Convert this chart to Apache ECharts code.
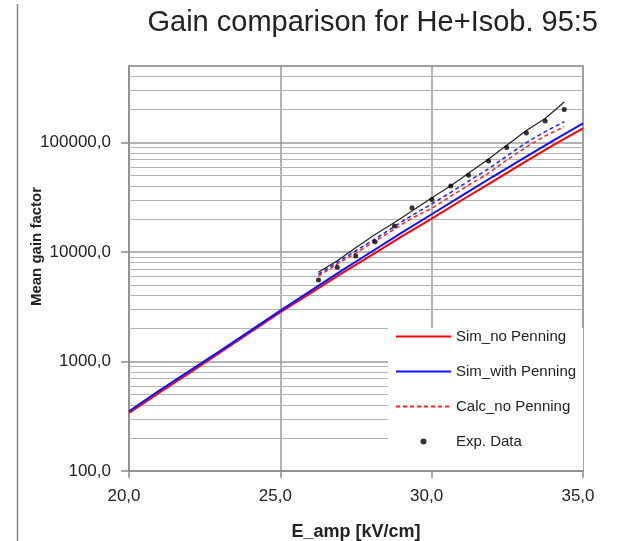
<!DOCTYPE html>
<html>
<head>
<meta charset="utf-8">
<script src="https://cdn.jsdelivr.net/npm/echarts@6/dist/echarts.min.js"></script>
<style>html,body{margin:0;padding:0;background:#fff}#c{width:618px;height:541px}</style>
</head>
<body>
<div id="c"></div>
<script>
// ---- data ----
const simE = [20, 21, 22, 23, 24, 25, 26, 27, 28, 29, 30, 31, 32, 33, 34, 35];
const simNoPenning = [339, 519, 785, 1202, 1841, 2818, 4217, 6310, 9333, 13804, 20184, 29854, 43652, 64565, 94406, 134896];
const simWithPenning = [351, 543, 822, 1245, 1905, 2917, 4416, 6683, 10000, 14962, 22131, 32734, 48417, 70795, 103514, 149624];

const expE = [26.26, 26.88, 27.49, 28.13, 28.77, 29.35, 30.01, 30.63, 31.22, 31.88, 32.48, 33.13, 33.75, 34.38];
const calcNoPenning = [6026, 7762, 9772, 12589, 16218, 20417, 25119, 32359, 40738, 52481, 69183, 91201, 114815, 139316];
const calcWithPenning = [6266, 8054, 10257, 13183, 17100, 21577, 27542, 35075, 44463, 57544, 74989, 100000, 125893, 154882];
const expFit = [6531, 8318, 10965, 14454, 18621, 23714, 31261, 40272, 52481, 70795, 94406, 128825, 165959, 234423];
const expData = [5560, 7260, 9200, 12420, 17260, 25350, 30200, 40000, 50350, 67920, 89950, 122460, 157400, 200000];

const legendNames = ['Sim_no Penning', 'Sim_with Penning', 'Calc_no Penning', 'Exp. Data'];
const minorGridValues = [200, 300, 400, 500, 600, 700, 800, 900,
  2000, 3000, 4000, 5000, 6000, 7000, 8000, 9000,
  20000, 30000, 40000, 50000, 60000, 70000, 80000, 90000,
  200000, 300000, 400000];

const pairs = (xs, ys) => xs.map((x, i) => [x, ys[i]]);

const chart = echarts.init(document.getElementById('c'), null, {renderer: 'canvas'});
const FONT = 'Liberation Sans';
chart.setOption({
  animation: false,
  backgroundColor: '#fff',
  textStyle: {fontFamily: FONT, color: '#222'},
  title: {
    text: 'Gain comparison for He+Isob. 95:5',
    right: 15, top: 3,
    textStyle: {fontFamily: FONT, fontSize: 29, fontWeight: 'normal', color: '#222'}
  },
  grid: {left: 129, right: 35, top: 66, bottom: 70, show: true, borderColor: '#999', borderWidth: 1.5,
    backgroundColor: 'transparent', containLabel: false, outerBoundsMode: 'none'},
  legend: {
    data: legendNames.map((n, i) => i < 3 ? {name: n, itemStyle: {opacity: 0}} : {name: n}),
    orient: 'vertical',
    left: 388, top: 328,
    itemWidth: 55, itemHeight: 6, itemGap: 20,
    padding: [1, 7, 21, 7],
    backgroundColor: '#fff',
    z: 10,
    textStyle: {fontFamily: FONT, fontSize: 15, color: '#222'}
  },
  xAxis: {
    type: 'value', min: 20, max: 35, interval: 5,
    axisLine: {show: true, lineStyle: {color: '#8c8c8c', width: 1.5}},
    axisTick: {show: true, length: 7, lineStyle: {color: '#8c8c8c', width: 1.5}},
    axisLabel: {fontSize: 17, color: '#222', margin: 17, padding: [0, 10, 0, 0],
      formatter: v => v.toFixed(1).replace('.', ',')},
    splitLine: {show: true, lineStyle: {color: '#999', width: 1.5}},
    name: 'E_amp [kV/cm]', nameLocation: 'middle', nameGap: 52,
    nameTextStyle: {fontSize: 18, fontWeight: 'bold', color: '#222', fontFamily: FONT}
  },
  yAxis: {
    type: 'log', logBase: 10, min: 100, max: 500000,
    axisLine: {show: true, lineStyle: {color: '#8c8c8c', width: 1.5}},
    axisTick: {show: true, length: 8, lineStyle: {color: '#8c8c8c', width: 1.5}},
    axisLabel: {fontSize: 17, color: '#222', margin: 18, showMaxLabel: false,
      formatter: v => { const l = Math.log10(v); return Math.abs(l - Math.round(l)) < 1e-6 ? Math.round(v) + ',0' : ''; }},
    splitLine: {show: true, lineStyle: {color: '#9a9a9a', width: 1.5}},
    name: 'Mean gain factor', nameLocation: 'middle', nameGap: 85, nameMoveOverlap: false,
    nameTextStyle: {fontSize: 15, fontWeight: 'bold', color: '#222', fontFamily: FONT, padding: [0, 0, 0, 44]}
  },
  graphic: [{
    type: 'line', shape: {x1: 17.5, y1: 4, x2: 17.5, y2: 541},
    style: {stroke: '#888', lineWidth: 1.5}, silent: true
  }],
  series: [
    {
      name: 'Sim_no Penning', type: 'line', data: pairs(simE, simNoPenning),
      symbol: 'none', lineStyle: {color: '#ff0000', width: 2}, itemStyle: {color: '#ff0000'}, z: 3,
      markLine: {
        silent: true, symbol: 'none', z: 1, label: {show: false},
        lineStyle: {color: '#b4b4b4', width: 1, type: 'solid'},
        data: minorGridValues.map(v => ({yAxis: v}))
      }
    },
    {
      name: 'Sim_with Penning', type: 'line', data: pairs(simE, simWithPenning),
      symbol: 'none', lineStyle: {color: '#1010ff', width: 2}, itemStyle: {color: '#1010ff'}, z: 4
    },
    {
      name: 'Calc_no Penning', type: 'line', data: pairs(expE, calcNoPenning),
      symbol: 'none', lineStyle: {color: '#ff2020', width: 1.5, type: [4, 3]}, itemStyle: {color: '#ff2020'}, z: 5
    },
    {
      name: 'Calc_with Penning', type: 'line', data: pairs(expE, calcWithPenning),
      symbol: 'none', lineStyle: {color: '#2020ff', width: 1.5, type: [4, 3]}, itemStyle: {color: '#2020ff'}, z: 5
    },
    {
      name: 'Exp. fit', type: 'line', data: pairs(expE, expFit),
      symbol: 'none', lineStyle: {color: '#222', width: 1.2}, itemStyle: {color: '#222'}, z: 6
    },
    {
      name: 'Exp. Data', type: 'scatter', data: pairs(expE, expData),
      symbol: 'circle', symbolSize: 5, itemStyle: {color: '#000'}, z: 7
    }
  ]
});
</script>
</body>
</html>
